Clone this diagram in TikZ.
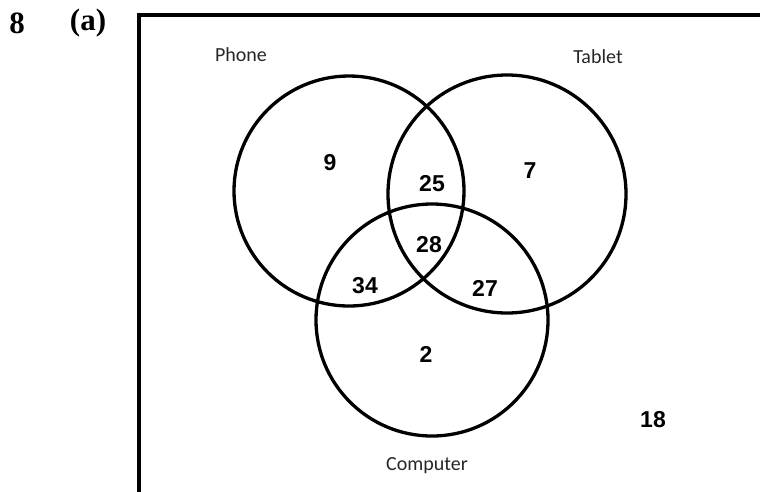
\documentclass[tikz,border=0pt]{standalone}
\usepackage{fontspec}
\setmainfont{Liberation Serif}
\newfontfamily\numfont{Liberation Sans}
\newfontfamily\lblfont{Carlito}
\begin{document}
\begin{tikzpicture}[x=1pt,y=-1pt,
  setcircle/.style={draw=black,line width=3.3pt},
  framestyle/.style={draw=black,line width=4pt},
  countlabel/.style={font=\numfont\bfseries\fontsize{23}{23}\selectfont,inner sep=0pt},
  setname/.style={font=\lblfont\fontsize{20}{20}\selectfont,text=black!85,inner sep=0pt},
  qlabel/.style={font=\bfseries\fontsize{31}{31}\selectfont,inner sep=0pt}]
\useasboundingbox (0,0) rectangle (760,491);
\begin{scope}
\clip (0,0) rectangle (760,491);
\coordinate (fbl) at (139,500);
\coordinate (ftl) at (139,15);
\coordinate (ftr) at (770,15);
\draw[framestyle] (fbl) -- (ftl) -- (ftr);
\end{scope}
% question labels
\node[qlabel] (qnum) at (17,23) {8};
\node[qlabel] (qpart) at (88,23) {(a)};
% circles
\node[setcircle,circle,minimum size=230pt,inner sep=0pt] (phone) at (349,191) {};
\node[setcircle,circle,minimum size=238pt,inner sep=0pt] (tablet) at (507,194) {};
\node[setcircle,circle,minimum size=232pt,inner sep=0pt] (computer) at (432,320) {};
% set names
\node[setname] (phonelbl) at (241,55) {Phone};
\node[setname] (tabletlbl) at (598,57) {Tablet};
\node[setname] (complbl) at (427,466) {Computer};
% counts
\node[countlabel] (n9) at (330,163) {9};
\node[countlabel] (n25) at (432,184) {25};
\node[countlabel] (n7) at (530,171) {7};
\node[countlabel] (n28) at (429,245) {28};
\node[countlabel] (n34) at (365,286) {34};
\node[countlabel] (n27) at (485,288) {27};
\node[countlabel] (n2) at (426,354) {2};
\node[countlabel] (n18) at (653,420) {18};
\end{tikzpicture}
\end{document}
